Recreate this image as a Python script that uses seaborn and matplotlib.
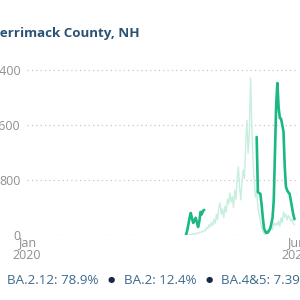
import pandas as pd
import matplotlib
matplotlib.use("Agg")
import matplotlib.pyplot as plt
import seaborn as sns

# Data
TITLE = "Merrimack County, NH"
start_date = "2021-06-05"
step = "4D"

light_values = [
    0, 5, 0, 10, 5, 15, 10, 20, 15, 30, 25, 40, 35, 55, 45, 70,
    60, 110, 90, 150, 120, 180, 140, 230, 170, 300, 220, 400, 465,
    300, 380, 250, 420, 330, 520, 450, 610,
    480, 560, 400, 650, 520, 820, 990,
    700, 510, 780, 945, 820,
    1300, 1670, 1190, 1500, 2280,
    1600, 1090, 800, 550, 650, 400,
    300, 200, 115, 60, 20, 0,
    40, 70, 30, 90, 120, 80, 175, 140,
    170, 145, 200, 130, 250, 180, 335, 260,
    300, 220, 280, 260, 200, 230, 175, 150,
]

dark_seg1_start = 0
dark_seg1 = [0, 60, 150, 250, 320, 240, 175, 210, 250, 180, 116, 200, 335, 300, 350, 365]

dark_seg2_start = 58
dark_seg2 = [1425, 625, 610, 600, 450, 260, 100, 50, 30, 35, 60, 90, 160, 250,
             500, 1200, 1900, 2210, 1850, 1700, 1690, 1600, 1500, 1000, 700,
             650, 620, 600, 500, 400, 300, 230]

y_ticks = [0, 800, 1600, 2400]
x_ticks = ["2020-01-01", "2022-06-01"]
x_tick_labels = ["Jan\n2020", "Jun\n2022"]

legend_items = ["BA.2.12: 78.9%", "BA.2: 12.4%", "BA.4&5: 7.39%"]

DARK = "#1cb882"
LIGHT = "#c6efde"
TITLE_COLOR = "#2a5275"
LEGEND_COLOR = "#3d6b8c"
BULLET_COLOR = "#1a2a44"
TICK_COLOR = "#8f8f8f"

sns.set_style("white")
plt.rcParams["font.family"] = ["Open Sans", "DejaVu Sans"]

dates = pd.date_range(start_date, periods=len(light_values), freq=step)
light_df = pd.DataFrame({"date": dates, "value": light_values})
seg1_df = pd.DataFrame({"date": dates[dark_seg1_start:dark_seg1_start + len(dark_seg1)],
                        "value": dark_seg1})
seg2_df = pd.DataFrame({"date": dates[dark_seg2_start:dark_seg2_start + len(dark_seg2)],
                        "value": dark_seg2})

fig = plt.figure(figsize=(3, 3), dpi=100)
ax = fig.add_axes([0.09, 0.2167, 0.8967, 0.573])

sns.lineplot(data=light_df, x="date", y="value", ax=ax, color=LIGHT, linewidth=1.0)
sns.lineplot(data=seg1_df, x="date", y="value", ax=ax, color=DARK, linewidth=1.9)
sns.lineplot(data=seg2_df, x="date", y="value", ax=ax, color=DARK, linewidth=1.9)

ax.set_xlim(pd.Timestamp("2020-01-01"), pd.Timestamp("2022-06-01"))
ax.set_ylim(0, 2500)
ax.set_yticks(y_ticks)
ax.set_yticklabels([str(v) for v in y_ticks])
ax.set_xticks(pd.to_datetime(x_ticks))
ax.set_xticklabels(x_tick_labels, linespacing=0.95)
ax.tick_params(length=0, labelsize=9, colors=TICK_COLOR)
ax.tick_params(axis="y", pad=4.5)
ax.tick_params(axis="x", pad=1)
ax.set_xlabel("")
ax.set_ylabel("")
ax.grid(axis="y", linestyle=(0, (1, 2.5)), color="#c8c8c8", linewidth=0.9)
ax.grid(axis="x", visible=False)
for s in ax.spines.values():
    s.set_visible(False)

fig.text(-0.043, 0.89, TITLE, fontsize=9.6, fontweight="bold", color=TITLE_COLOR,
         ha="left", va="center")

# legend row: text pieces laid out one after another, bullets between
renderer = fig.canvas.get_renderer()
x_px = 7
base_y = 0.052
for i, item in enumerate(legend_items):
    if i > 0:
        fig.text((x_px + 13) / 300, base_y + 0.012, "\u25CF", fontsize=6,
                 color=BULLET_COLOR, ha="center", va="center")
        x_px += 25
    t = fig.text(x_px / 300, base_y, item, fontsize=9.6, color=LEGEND_COLOR,
                 ha="left", va="baseline")
    x_px = t.get_window_extent(renderer).x1

fig.savefig("out.png", dpi=100)
